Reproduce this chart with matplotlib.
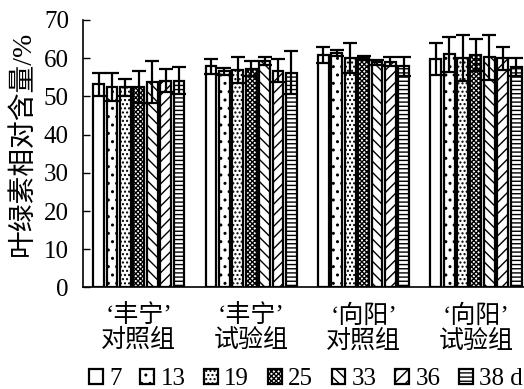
import matplotlib
matplotlib.use('Agg')
import matplotlib.pyplot as plt
import numpy as np

plt.rcParams['font.family'] = ['Liberation Serif', 'Noto Sans CJK SC']
plt.rcParams['hatch.linewidth'] = 1.0

# 数据
groups = ['‘丰宁’\n对照组', '‘丰宁’\n试验组', '‘向阳’\n对照组', '‘向阳’\n试验组']
days = ['7', '13', '19', '25', '33', '36', '38 d']
hatches = ['', '..', '....', 'xxxxxxx', '\\\\\\', '///', '----']

values = [
    [53.2, 52.5, 52.4, 52.4, 53.7, 54.1, 54.1],
    [57.8, 56.5, 56.9, 57.2, 59.3, 56.7, 56.2],
    [60.8, 61.3, 60.0, 60.1, 58.9, 59.1, 57.8],
    [59.7, 61.0, 60.0, 60.8, 60.2, 60.0, 57.6],
]
errors = [
    [3.0, 3.6, 2.2, 4.2, 5.5, 3.0, 3.5],
    [2.0, 1.0, 3.3, 2.0, 1.0, 3.0, 5.6],
    [2.2, 0.8, 3.9, 0.5, 0.7, 1.2, 2.5],
    [4.2, 4.6, 6.0, 4.2, 5.9, 3.0, 2.3],
]

fig = plt.figure(figsize=(5.24, 3.89), dpi=100)
ax = fig.add_axes([0.158, 0.261, 0.842, 0.688])

pitch = 0.1193
width = 0.097
x = np.arange(len(groups))
for i, d in enumerate(days):
    pos = x + (i - 3) * pitch
    v = [row[i] for row in values]
    e = [row[i] for row in errors]
    ax.bar(pos, v, width, color='white', edgecolor='black', linewidth=1.6,
           hatch=hatches[i], label=d, zorder=2)
    ax.errorbar(pos, v, yerr=e, fmt='none', ecolor='black', elinewidth=1.6,
                capsize=5, capthick=1.6, zorder=3)

ax.set_xlim(-0.4987, 3.428)
ax.set_ylim(0, 70)
ax.set_yticks(range(0, 71, 10))
ax.set_xticks(x)
ax.set_xticklabels(groups, fontsize=18, linespacing=1.1)
ax.tick_params(axis='x', length=0, pad=12)
ax.tick_params(axis='y', direction='in', length=5, width=1, labelsize=18, pad=10)
for s in ['top', 'right']:
    ax.spines[s].set_visible(False)
ax.spines['left'].set_linewidth(1.2)
ax.spines['bottom'].set_linewidth(1.2)

ax.set_ylabel('叶绿素相对含量/%', fontsize=20)
ax.yaxis.set_label_coords(-0.107, 0.54)

fig.legend(loc='lower center', bbox_to_anchor=(0.584, -0.035), ncol=7, frameon=False,
           fontsize=18, handlelength=0.55, handleheight=0.55, handletextpad=0.25,
           columnspacing=0.75, borderaxespad=0.1)

fig.savefig('out.png', dpi=100)
